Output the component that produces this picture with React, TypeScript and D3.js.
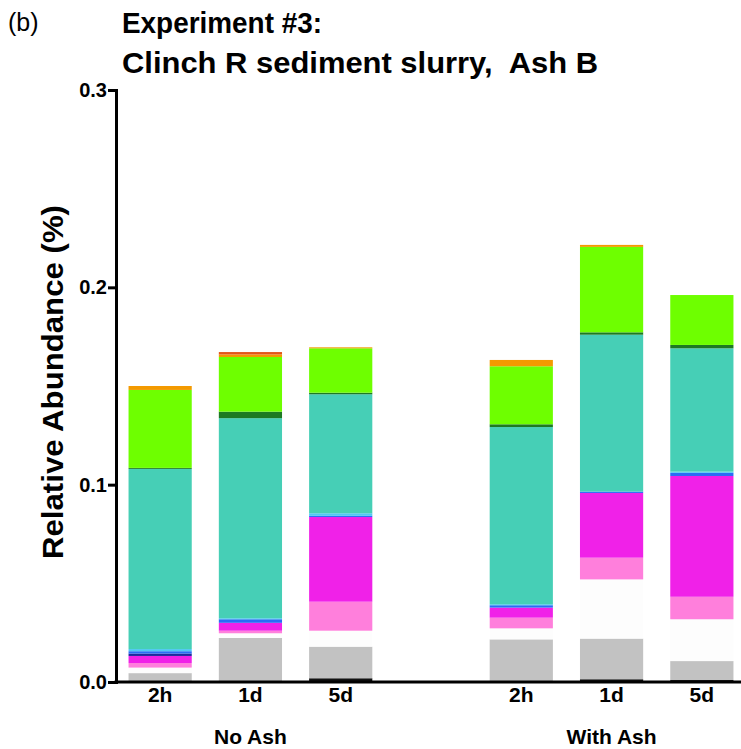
import React, { useEffect, useRef } from "react";
import * as d3 from "d3";

// bar slots (the empty one separates the two groups)
const slots = ["na2h", "na1d", "na5d", "gap", "wa2h", "wa1d", "wa5d"];
const barKeys = ["na2h", "na1d", "na5d", "wa2h", "wa1d", "wa5d"];
const barLabels = ["2h", "1d", "5d", "2h", "1d", "5d"];
const groupLabels = ["No Ash", "With Ash"];
const yTicks = [0, 0.1, 0.2, 0.3];

// stack layers, bottom to top
const layers = ["black", "gray", "white", "pink", "magenta", "navy", "blue", "sky", "teal", "darkgreen", "lime", "orange", "red"];
const layerColors = ["#111111", "#c2c2c2", "#fdfdfd", "#ff7fdc", "#f021e8", "#1c2a9c", "#2a6cf5", "#4fc8f5", "#46cfb6", "#1d7a22", "#6eff00", "#f39a00", "#e2551a"];

// relative abundance per layer, one value per bar (same order as barKeys)
const black = [0.0003, 0.0005, 0.0019, 0.0005, 0.0014, 0.001];
const gray = [0.0042, 0.0218, 0.016, 0.0211, 0.0206, 0.0096];
const white = [0.0028, 0.0024, 0.0081, 0.0056, 0.03, 0.0212];
const pink = [0.0023, 0.0013, 0.0147, 0.0054, 0.011, 0.0114];
const magenta = [0.0036, 0.004, 0.0429, 0.0051, 0.0328, 0.0612];
const navy = [0.0012, 0, 0, 0, 0, 0];
const blue = [0.0012, 0.0018, 0.0006, 0.0012, 0.0007, 0.0016];
const sky = [0.0011, 0.0005, 0.0013, 0.0005, 0, 0.0006];
const teal = [0.0913, 0.1014, 0.0603, 0.0898, 0.0795, 0.0625];
const darkgreen = [0.0005, 0.0033, 0.0008, 0.0014, 0.0012, 0.0017];
const lime = [0.0395, 0.0277, 0.0225, 0.0294, 0.0433, 0.0253];
const orange = [0.002, 0.0013, 0.0005, 0.0032, 0.001, 0];
const red = [0, 0.0012, 0, 0, 0, 0];

const layerValues = [black, gray, white, pink, magenta, navy, blue, sky, teal, darkgreen, lime, orange, red];

const W = 741;
const H = 749;
const FONT = "'Liberation Sans', Arial, sans-serif";

const App = () => {
  const ref = useRef<SVGSVGElement>(null);

  useEffect(() => {
    const svg = d3.select(ref.current);
    svg.selectAll("*").remove();

    const rows = barKeys.map((k, i) => {
      const r: any = { key: k };
      layers.forEach((l, j) => (r[l] = layerValues[j][i]));
      return r;
    });

    const x = d3.scaleBand().domain(slots).range([115, 747]).paddingInner(0.3).paddingOuter(0.15);
    const y = d3.scaleLinear().domain([0, 0.3]).range([682, 90]);
    const color = d3.scaleOrdinal<string, string>().domain(layers).range(layerColors);

    const stack = d3.stack<any>().keys(layers)(rows);

    svg
      .append("g")
      .selectAll("g")
      .data(stack)
      .join("g")
      .attr("fill", (d) => color(d.key))
      .selectAll("rect")
      .data((d) => d)
      .join("rect")
      .attr("x", (d: any) => x(d.data.key)!)
      .attr("width", x.bandwidth())
      .attr("y", (d) => y(d[1]))
      .attr("height", (d) => Math.max(0, y(d[0]) - y(d[1])));

    // axes
    const yAxis = svg
      .append("g")
      .attr("transform", "translate(116,0)")
      .call(d3.axisLeft(y).tickValues(yTicks).tickFormat(d3.format(".1f")).tickSizeOuter(0).tickSize(8));
    yAxis.select(".domain").attr("stroke", "#000").attr("stroke-width", 3);
    yAxis.selectAll(".tick line").attr("stroke", "#000").attr("stroke-width", 3);
    yAxis
      .selectAll(".tick text")
      .attr("font-family", FONT)
      .attr("font-weight", "bold")
      .attr("font-size", 20)
      .attr("fill", "#000")
      .attr("x", -9);

    svg
      .append("line")
      .attr("x1", 114.5)
      .attr("x2", W)
      .attr("y1", 682)
      .attr("y2", 682)
      .attr("stroke", "#000")
      .attr("stroke-width", 3);

    svg
      .append("g")
      .selectAll("text")
      .data(barKeys)
      .join("text")
      .attr("x", (d) => x(d)! + x.bandwidth() / 2)
      .attr("y", 702)
      .attr("text-anchor", "middle")
      .attr("font-family", FONT)
      .attr("font-weight", "bold")
      .attr("font-size", 21)
      .text((d, i) => barLabels[i]);

    const groupCenters = [x("na1d")! + x.bandwidth() / 2, x("wa1d")! + x.bandwidth() / 2];
    svg
      .append("g")
      .selectAll("text")
      .data(groupLabels)
      .join("text")
      .attr("x", (d, i) => groupCenters[i])
      .attr("y", 744)
      .attr("text-anchor", "middle")
      .attr("font-family", FONT)
      .attr("font-weight", "bold")
      .attr("font-size", 21)
      .text((d) => d);

    svg
      .append("text")
      .attr("transform", "translate(63,382) rotate(-90)")
      .attr("text-anchor", "middle")
      .attr("font-family", FONT)
      .attr("font-weight", "bold")
      .attr("font-size", 30)
      .attr("textLength", 354)
      .attr("lengthAdjust", "spacingAndGlyphs")
      .text("Relative Abundance (%)");

    svg
      .append("text")
      .attr("x", 8)
      .attr("y", 31)
      .attr("font-family", FONT)
      .attr("font-size", 25)
      .text("(b)");

    const tStyle = (s: any) =>
      s.attr("font-family", FONT).attr("font-weight", "bold").attr("font-size", 30).attr("lengthAdjust", "spacingAndGlyphs");
    svg.append("text").call(tStyle).attr("x", 122).attr("y", 33).attr("textLength", 200).text("Experiment #3:");
    svg
      .append("text")
      .call(tStyle)
      .attr("x", 122)
      .attr("y", 73)
      .attr("textLength", 476)
      .text("Clinch R sediment slurry,\u00a0 Ash B");
  }, []);

  return (
    <svg
      ref={ref}
      width={W}
      height={H}
      style={{ position: "absolute", left: 0, top: 0, background: "#fff" }}
    />
  );
};

export default App;
